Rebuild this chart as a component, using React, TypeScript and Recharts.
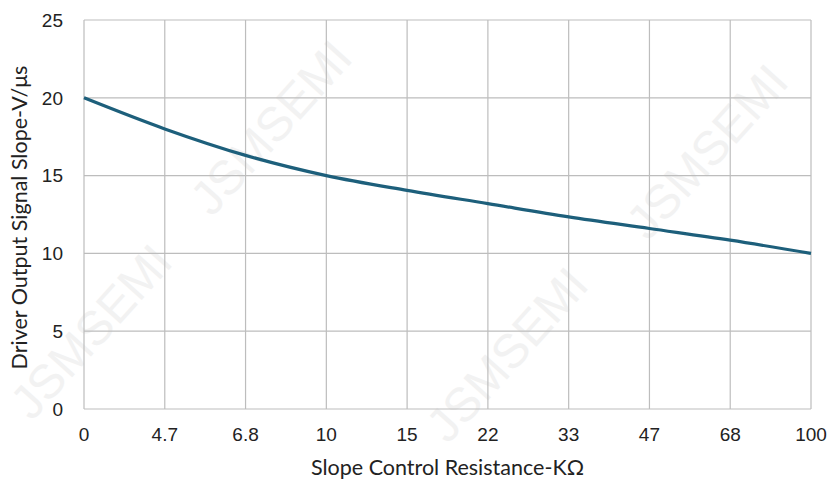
import React from 'react';
import { LineChart, Line, XAxis, YAxis, CartesianGrid } from 'recharts';

const categories = ['0', '4.7', '6.8', '10', '15', '22', '33', '47', '68', '100'];
const slopeValues = [20, 18.0, 16.3, 15.0, 14.05, 13.2, 12.35, 11.6, 10.85, 10.0];
const yTicks = [0, 5, 10, 15, 20, 25];

const data = categories.map((c, i) => ({ r: c, slope: slopeValues[i] }));

const watermarks = [
  { x: 212, y: 218 },
  { x: 648, y: 242 },
  { x: 32, y: 422 },
  { x: 448, y: 445 },
];

const YTitle = (props: any) => {
  const vb = props.viewBox;
  const cx = vb.x + 19;
  const cy = vb.y + vb.height / 2 + 3;
  return (
    <text x={cx} y={cy} transform={`rotate(-90 ${cx} ${cy})`} textAnchor="middle" dominantBaseline="central"
      fontFamily="Lato, sans-serif" fontSize={21.5} fill="#222">
      Driver Output Signal Slope-V/μs
    </text>
  );
};

export default function App() {
  return (
    <div style={{ position: 'absolute', left: 0, top: 0, width: 829, height: 481, background: '#fff', overflow: 'hidden' }}>
      <svg width={829} height={481} style={{ position: 'absolute', left: 0, top: 0 }}>
        {watermarks.map((w, i) => (
          <text key={i} x={w.x} y={w.y} transform={`rotate(-48 ${w.x} ${w.y})`} fontFamily="'Liberation Sans', Arial, sans-serif"
            fontSize={48} fill="#f2f2f2">
            JSMSEMI
          </text>
        ))}
      </svg>
      <div style={{ position: 'absolute', left: 0, top: 0 }}>
        <LineChart width={829} height={481} data={data} margin={{ top: 20, right: 18, left: 0, bottom: 0 }}>
          <CartesianGrid stroke="#bdbdbd" strokeWidth={1.2} />
          <XAxis dataKey="r" height={72} axisLine={false} tickLine={false} tickSize={6} tickMargin={13}
            tick={{ fontFamily: "'Liberation Sans', Arial, sans-serif", fontSize: 19, fill: '#222' }}
            interval={0}
            label={{ value: 'Slope Control Resistance-KΩ', position: 'insideBottom', offset: 6, fontFamily: 'Lato, sans-serif', fontSize: 21.5, fill: '#222' }} />
          <YAxis width={84} domain={[0, 25]} ticks={yTicks} axisLine={false} tickLine={false} tickSize={6} tickMargin={15}
            tick={{ fontFamily: "'Liberation Sans', Arial, sans-serif", fontSize: 19, fill: '#222' }}
            label={<YTitle />} />
          <Line type="monotone" dataKey="slope" stroke="#1d5f7b" strokeWidth={3.2} dot={false} isAnimationActive={false} />
        </LineChart>
      </div>
    </div>
  );
}
